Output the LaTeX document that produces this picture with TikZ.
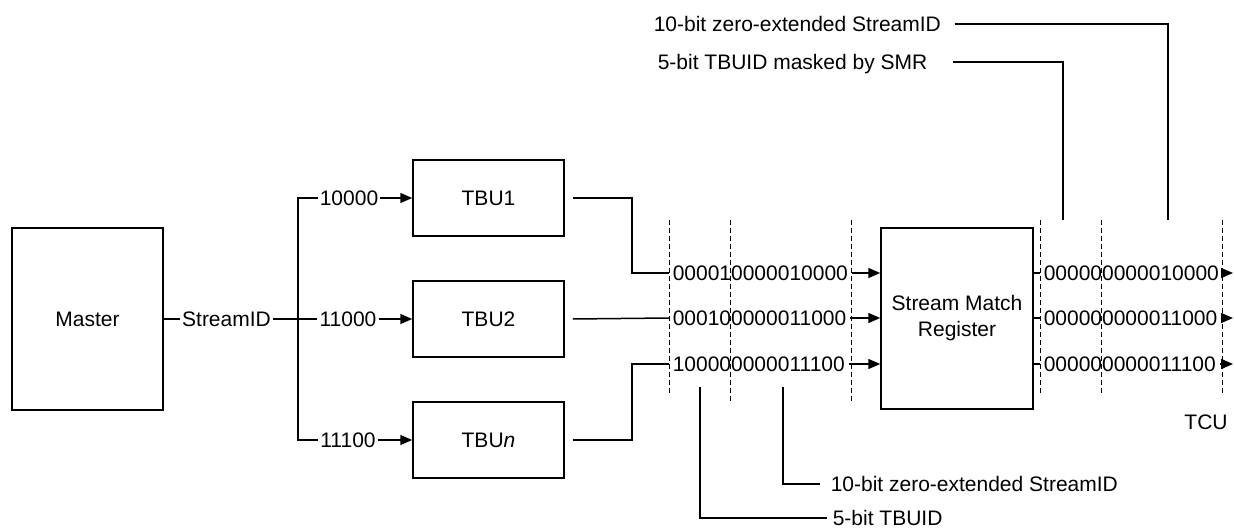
\documentclass[tikz,border=0pt]{standalone}
\usepackage{fontspec}
\setmainfont{Liberation Sans}
\usetikzlibrary{arrows.meta}
\begin{document}
\begin{tikzpicture}[x=1pt,y=-1pt,line width=1.5pt,
  every node/.style={font=\fontsize{21}{26}\selectfont,inner sep=0pt},
  blk/.style={draw,minimum width=151pt,minimum height=76pt},
  lab/.style={text height=15pt,text depth=0pt,inner xsep=1.5pt},
  bits/.style={lab,anchor=west,inner xsep=3pt},
  note/.style={lab,anchor=west,inner xsep=0pt},
  arr/.style={-{Triangle[length=12pt,width=10pt]}},
  dashln/.style={dash pattern=on 5pt off 3pt,line width=1pt}]
\useasboundingbox (0,0) rectangle (1234,529);
% dashed guides
\draw[dashln] (669,220) -- (669,395);
\draw[dashln] (730,220) -- (730,402);
\draw[dashln] (851,220) -- (851,402);
\draw[dashln] (1040,220) -- (1040,395);
\draw[dashln] (1101,220) -- (1101,395);
\draw[dashln] (1222,220) -- (1222,395);
% blocks
\node[draw,minimum width=151pt,minimum height=182pt] (master) at (87.5,319) {Master};
\node[blk] (tbu1) at (488.5,198) {TBU1};
\node[blk] (tbu2) at (488.5,319) {TBU2};
\node[blk] (tbun) at (488.5,440) {TBU\textit{n}};
\node[draw,minimum width=152pt,minimum height=181pt,align=center] (smr) at (957,318.5) {Stream Match\\Register};
% labels
\node[lab] (sid) at (226.5,319) {StreamID};
\node[lab] (l1) at (349,198) {10000};
\node[lab] (l2) at (348,319) {11000};
\node[lab] (l3) at (348,440) {11100};
\coordinate (bt) at (298,198);
\coordinate (bb) at (298,440);
\draw (master.east) -- (sid.west);
\draw (sid.east) -- (l2.west);
\draw (l1.west) -- (bt) -- (bb) -- (l3.west);
\draw[arr] (l1.east) -- (tbu1.west);
\draw[arr] (l2.east) -- (tbu2.west);
\draw[arr] (l3.east) -- (tbun.west);
% bit strings
\node[bits] (b1) at (669,273) {000010000010000};
\node[bits] (b2) at (669,318) {000100000011000};
\node[bits] (b3) at (669,364) {100000000011100};
\node[bits] (o1) at (1040,273) {000000000010000};
\node[bits] (o2) at (1040,318) {000000000011000};
\node[bits] (o3) at (1040,364) {000000000011100};
\draw ([xshift=8pt]tbu1.east) -| ([xshift=-37pt]b1.west) -- (b1.west);
\draw ([xshift=8pt]tbu2.east) -- (b2.west);
\draw ([xshift=8pt]tbun.east) -| ([xshift=-37pt]b3.west) -- (b3.west);
\draw[arr] (b1.east) -- (b1.east -| smr.west);
\draw[arr] (b2.east) -- (b2.east -| smr.west);
\draw[arr] (b3.east) -- (b3.east -| smr.west);
\draw (o1.west -| smr.east) -- (o1.west);
\draw (o2.west -| smr.east) -- (o2.west);
\draw (o3.west -| smr.east) -- (o3.west);
\coordinate (e1) at (1233,273);
\coordinate (e2) at (1233,318);
\coordinate (e3) at (1233,364);
\draw[arr] (o1.east) -- (e1);
\draw[arr] (o2.east) -- (e2);
\draw[arr] (o3.east) -- (e3);
\node (tcu) at (1206,422) {TCU};
% top notes
\node[note] (ta1) at (653,24) {10-bit zero-extended StreamID};
\node[note] (ta2) at (657,62) {5-bit TBUID masked by SMR};
\coordinate (ta1e) at (1168,220);
\coordinate (ta2e) at (1063,220);
\draw ([xshift=13pt]ta1.east) -| (ta1e);
\draw ([xshift=25pt]ta2.east) -| (ta2e);
% bottom notes
\node[note] (bl1) at (832,518) {5-bit TBUID};
\node[note] (bl2) at (830,484) {10-bit zero-extended StreamID};
\coordinate (ba1) at (700,387);
\coordinate (ba2) at (783,387);
\draw (ba1) |- ([xshift=-5pt]bl1.west);
\draw (ba2) |- ([xshift=-10pt]bl2.west);
\end{tikzpicture}
\end{document}
